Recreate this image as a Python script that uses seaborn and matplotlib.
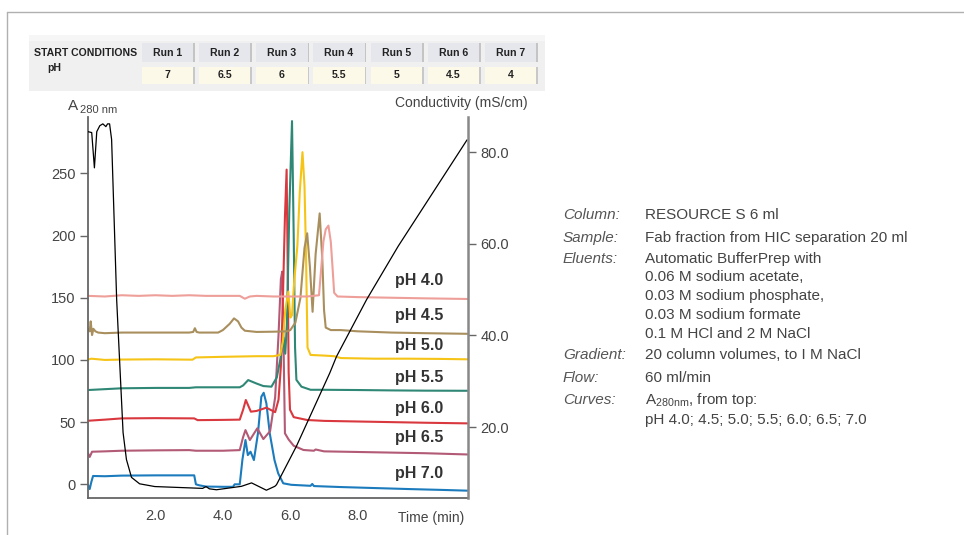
import numpy as np
import pandas as pd
import matplotlib
matplotlib.use("Agg")
import matplotlib.pyplot as plt
import seaborn as sns
from matplotlib.patches import Rectangle
from matplotlib.lines import Line2D

# ---- start conditions table ----
runs = ["Run 1", "Run 2", "Run 3", "Run 4", "Run 5", "Run 6", "Run 7"]
run_ph = ["7", "6.5", "6", "5.5", "5", "4.5", "4"]

# ---- A280 chromatograms (time in min, absorbance) ----
t_70 = [0, 0.05, 0.1, 0.15, 0.5, 1.0, 2.0, 3.15, 3.2, 3.3, 3.5, 4.0, 4.3, 4.35, 4.5, 4.58,
        4.67, 4.74, 4.82, 4.92, 5.04, 5.14, 5.21, 5.29, 5.39, 5.53, 5.64, 5.79, 6.03, 6.6,
        6.65, 6.7, 7.5, 8.5, 9.5, 10.5, 11.25]
a_70 = [-0.6, -3.8, 2, 6.7, 6.5, 7.0, 7.2, 7.2, 0, -0.8, -1.8, -2, -2, 0, 0, 20,
        35.6, 23.5, 26.2, 19.5, 41, 70.4, 73.6, 65.1, 41, 19.5, 8.8, 0.8, -0.4, -1.2,
        0.3, -1.4, -2.2, -3, -3.8, -4.5, -5.1]

t_65 = [0, 0.05, 0.12, 0.5, 1, 2, 3, 3.2, 3.5, 4, 4.5, 4.6, 4.67, 4.8, 5.02, 5.2, 5.4,
        5.55, 5.65, 5.72, 5.76, 5.8, 5.84, 5.95, 6.1, 6.39, 6.7, 6.75, 7, 8, 9, 10, 11.25]
a_65 = [25, 22, 26.2, 26.5, 27, 27.3, 27.5, 27, 27, 27, 27.5, 38, 43.6, 35.6, 45, 36.4, 42.7,
        70, 120, 165, 171, 110, 41, 36, 31, 27.6, 27, 28, 26.5, 26, 25.5, 25, 24]

t_60 = [0, 0.5, 1, 2, 3.15, 3.25, 4, 4.5, 4.6, 4.68, 4.83, 5.0, 5.29, 5.55, 5.65, 5.72,
        5.78, 5.84, 5.89, 5.92, 5.95, 5.99, 6.1, 6.5, 7, 8, 9, 10, 11.25]
a_60 = [51.1, 52, 53, 53.2, 53, 51.6, 51.8, 52, 60, 67.8, 58.4, 59, 61.6, 58, 68, 95,
        150, 215, 253, 180, 90, 60, 54, 51.7, 51, 50.5, 50, 49.5, 49]

t_55 = [0, 0.5, 1, 2, 3, 3.2, 4, 4.5, 4.6, 4.75, 5.0, 5.2, 5.44, 5.6, 5.7, 5.8, 5.85,
        5.9, 5.97, 6.05, 6.1, 6.14, 6.18, 6.33, 6.6, 7, 8, 9, 10, 11.25]
a_55 = [75.8, 76.5, 77.2, 77.5, 77.5, 78, 78, 78, 79.5, 83.8, 81, 79, 78.5, 86, 100, 118, 105,
        130, 220, 292, 200, 110, 84, 78.5, 76, 76, 75.8, 75.5, 75.3, 75.2]

t_50 = [0, 0.1, 0.5, 1, 2, 3.1, 3.2, 4, 5, 5.5, 5.7, 5.78, 5.85, 5.94, 6.0, 6.05, 6.12,
        6.21, 6.28, 6.36, 6.42, 6.46, 6.51, 6.6, 7.0, 7.3, 7.5, 8.5, 9.5, 10.5, 11.25]
a_50 = [100.3, 101, 100, 100.3, 100.5, 100.2, 102, 102.5, 103, 103, 104, 115, 140, 155, 134,
        136, 165, 192, 235, 267, 240, 192, 110, 104, 103.5, 103, 101.5, 101, 101, 100.8, 100.5]

t_45 = [0, 0.05, 0.08, 0.12, 0.16, 0.22, 0.3, 0.5, 1, 2, 3.0, 3.12, 3.17, 3.22, 3.3, 3.86,
        4.0, 4.2, 4.33, 4.45, 4.55, 4.65, 5, 5.5, 5.9, 6.0, 6.15, 6.3, 6.42, 6.5, 6.58,
        6.66, 6.75, 6.87, 6.95, 7.0, 7.05, 7.2, 7.5, 8, 9, 10, 11.25]
a_45 = [125, 123, 131, 120, 125, 123, 122, 121.5, 122, 122, 122, 122.5, 125.5, 122.5, 122, 122,
        124, 129, 133.4, 131, 126, 123.5, 122.5, 122.7, 123, 124, 130, 150, 190, 201.8, 175,
        138.7, 185, 217.8, 180, 140, 126, 124, 124, 123, 122, 121.5, 121]

t_40 = [0, 0.5, 1, 1.5, 2, 2.5, 3, 3.5, 4, 4.5, 4.65, 4.8, 5, 5.5, 6, 6.5, 6.85, 6.92,
        6.98, 7.05, 7.13, 7.2, 7.25, 7.3, 7.4, 8, 9, 10, 11.25]
a_40 = [151.5, 151, 152, 151.5, 152, 151.5, 152, 151.5, 151.5, 151.5, 149.2, 151, 151.5, 151,
        151, 151, 152, 175, 195, 205, 208, 195, 175, 154, 151, 150.5, 150, 149.5, 149]

ph_names = ["pH 7.0", "pH 6.5", "pH 6.0", "pH 5.5", "pH 5.0", "pH 4.5", "pH 4.0"]
curves_t = [t_70, t_65, t_60, t_55, t_50, t_45, t_40]
curves_a = [a_70, a_65, a_60, a_55, a_50, a_45, a_40]
ph_colors = ["#1b7bbd", "#b25a76", "#d9383f", "#2f8775", "#f6c416", "#a98f5e", "#ee9f99"]
# label anchor heights (A280 units) for the pH names on the right
label_a = [9, 38, 61, 85.5, 112, 136, 164]

# ---- conductivity (mS/cm) ----
cond_t = [0, 0.11, 0.19, 0.26, 0.35, 0.44, 0.53, 0.58, 0.64, 0.70, 0.85, 1.04, 1.14, 1.29,
          1.53, 1.98, 3.4, 3.5, 3.6, 3.81, 4.55, 4.85, 5.29, 5.54, 5.59, 6.18, 7.17, 7.37,
          8.26, 9.2, 11.24]
cond_v = [84.5, 84.3, 76.6, 84.5, 85.8, 86.2, 85.6, 86.2, 86.2, 82.8, 47.8, 18.8, 12.9, 9.0,
          7.6, 7.0, 6.6, 7.0, 6.5, 6.3, 7.05, 7.8, 6.2, 7.05, 7.4, 15.8, 31.8, 35.4,
          47.8, 59.5, 82.7]

a_ticks = [0, 50, 100, 150, 200, 250]
cond_ticks = [20, 40, 60, 80]
time_ticks = [2, 4, 6, 8]

info_keys = ["Column:", "Sample:", "Eluents:", "", "", "", "", "Gradient:", "Flow:", "Curves:", ""]
info_vals = ["RESOURCE S 6 ml",
             "Fab fraction from HIC separation 20 ml",
             "Automatic BufferPrep with",
             "0.06 M sodium acetate,",
             "0.03 M sodium phosphate,",
             "0.03 M sodium formate",
             "0.1 M HCl and 2 M NaCl",
             "20 column volumes, to I M NaCl",
             "60 ml/min",
             r"A$_{\mathregular{280nm}}$, from top:",
             "pH 4.0; 4.5; 5.0; 5.5; 6.0; 6.5; 7.0"]
info_y = [215, 238, 259, 277, 296, 315, 334, 355, 378, 400, 420]

# long-form table for seaborn
frames = []
for name, tt, aa in zip(ph_names, curves_t, curves_a):
    frames.append(pd.DataFrame({"Time": tt, "A280": aa, "pH": name}))
df = pd.concat(frames, ignore_index=True)

sns.set_theme(style="white")
plt.rcParams["font.family"] = ["Liberation Sans", "DejaVu Sans"]
plt.rcParams["mathtext.fontset"] = "custom"
plt.rcParams["mathtext.rm"] = "Liberation Sans"

W, H = 964, 535
fig = plt.figure(figsize=(W / 100, H / 100), dpi=100)
fig.patch.set_facecolor("white")


def fx(px):
    return px / W


def fy(py):
    return 1 - py / H


ax = fig.add_axes([fx(88), fy(498), fx(467.7) - fx(88), fy(117) - fy(498)])
ax2 = ax.twinx()

sns.lineplot(data=df, x="Time", y="A280", hue="pH", hue_order=ph_names,
             palette=dict(zip(ph_names, ph_colors)), estimator=None, sort=False,
             legend=False, linewidth=1.5, ax=ax)
sns.lineplot(x=cond_t, y=cond_v, color="black", linewidth=0.9, estimator=None,
             sort=False, ax=ax2)

ax.set_xlim(0, 11.26)
ax.set_ylim(-11, 295.3)
ax2.set_ylim(4.5, 87.7)

for name, ya in zip(ph_names, label_a):
    ax.text(9.11, ya, name, fontsize=11.5, fontweight="bold", color="#333333",
            va="center", ha="left")

ax.set_xticks(time_ticks)
ax.set_xticklabels([f"{v:.1f}" for v in time_ticks])
ax.set_yticks(a_ticks)
ax.set_yticklabels([str(v) for v in a_ticks])
ax2.set_yticks(cond_ticks)
ax2.set_yticklabels([f"{v:.1f}" for v in cond_ticks])
ax.set_xlabel("")
ax.set_ylabel("")
ax2.set_ylabel("")

for a in (ax, ax2):
    a.tick_params(length=6, width=1, color="#666666", labelsize=10.5,
                  labelcolor="#444444", direction="out", pad=3)
    for s in a.spines.values():
        s.set_visible(False)
ax.spines["left"].set_visible(True)
ax.spines["bottom"].set_visible(True)
ax.spines["left"].set_color("#666666")
ax.spines["bottom"].set_color("#666666")
ax.spines["left"].set_linewidth(1.3)
ax.spines["bottom"].set_linewidth(1.3)
ax2.spines["right"].set_visible(True)
ax2.spines["right"].set_color("#888888")
ax2.spines["right"].set_linewidth(1.8)
ax.tick_params(axis="x", length=5)

# axis titles
fig.text(fx(68), fy(106), "A", fontsize=11, color="#444444", va="center", ha="left")
fig.text(fx(80), fy(110), "280 nm", fontsize=8, color="#444444", va="center", ha="left")
fig.text(fx(528), fy(103), "Conductivity (mS/cm)", fontsize=10, color="#444444",
         va="center", ha="right")
fig.text(fx(464), fy(518), "Time (min)", fontsize=10, color="#444444",
         va="center", ha="right")

# outer frame lines
fig.add_artist(Line2D([fx(7), 1], [fy(12), fy(12)], color="#b0b0b0", lw=1))
fig.add_artist(Line2D([fx(7), fx(7)], [fy(12), 0], color="#b0b0b0", lw=1))

# start conditions table
tab = fig.add_axes([0, 0, 1, 1], zorder=-1)
tab.set_xlim(0, W)
tab.set_ylim(H, 0)
tab.axis("off")
tab.add_patch(Rectangle((29, 35), 516, 56, facecolor="#f0f0f0", edgecolor="none"))
tab.add_patch(Rectangle((29, 35), 516, 6, facecolor="#f6f6f6", edgecolor="none"))
tab.text(34, 52.5, "START CONDITIONS", fontsize=7.6, fontweight="bold", color="#222222",
         va="center", ha="left")
tab.text(47, 68, "pH", fontsize=7.6, fontweight="bold", color="#222222",
         va="center", ha="left")
for i, (run, ph) in enumerate(zip(runs, run_ph)):
    x0 = 141.7 + i * 57.2
    tab.add_patch(Rectangle((x0, 43.3), 51.5, 18.4, facecolor="#e5e7ec", edgecolor="none"))
    tab.add_patch(Rectangle((x0 + 51.5, 43.3), 1.5, 18.4, facecolor="#c4c4c4", edgecolor="none"))
    tab.add_patch(Rectangle((x0, 66.7), 51.5, 17.5, facecolor="#fdf9e9", edgecolor="none"))
    tab.add_patch(Rectangle((x0 + 51.5, 66.7), 1.5, 17.5, facecolor="#c8c8c8", edgecolor="none"))
    tab.text(x0 + 25.7, 52.5, run, fontsize=7.6, fontweight="bold", color="#222222",
             va="center", ha="center")
    tab.text(x0 + 25.7, 75.5, ph, fontsize=7.6, fontweight="bold", color="#222222",
             va="center", ha="center")

# run information block
for key, val, yy in zip(info_keys, info_vals, info_y):
    if key:
        fig.text(fx(563), fy(yy), key, fontsize=11, style="italic", color="#555555",
                 va="center", ha="left")
    fig.text(fx(645), fy(yy), val, fontsize=11, color="#444444", va="center", ha="left")

fig.savefig("out.png", dpi=100, facecolor="white")
